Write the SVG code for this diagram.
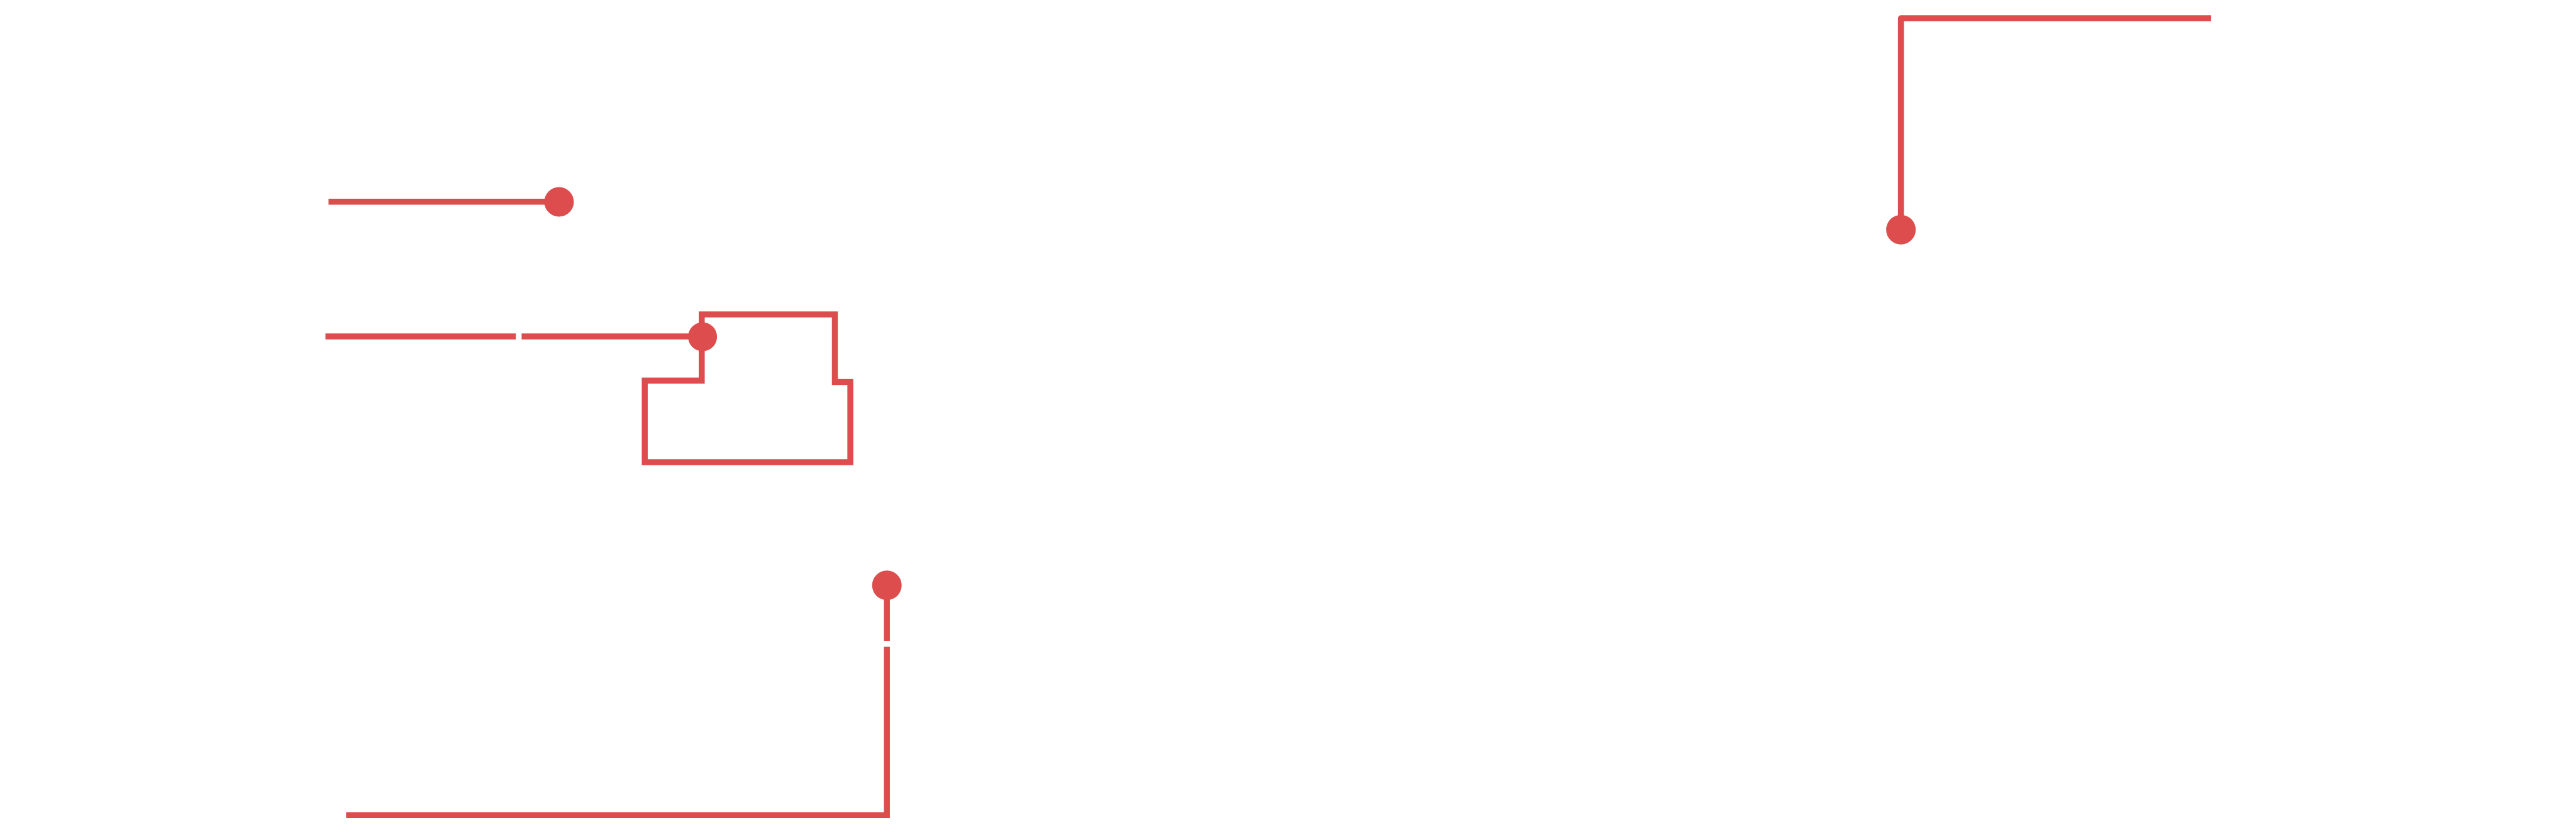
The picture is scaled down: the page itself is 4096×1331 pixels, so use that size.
<svg xmlns="http://www.w3.org/2000/svg" width="4096" height="1331" viewBox="0 0 4096 1331">
  <style>
    .edge { fill: none; stroke: #DD4D4D; stroke-width: 9.5; stroke-linecap: butt; stroke-linejoin: miter; }
    .edge.round { stroke-linejoin: round; }
    .dot { fill: #DD4D4D; stroke: none; }
  </style>
  <rect x="0" y="0" width="4096" height="1331" fill="#FFFFFF"/>
  <g id="connectors">
    <path class="edge" d="M522.4,320.7 H888.9"/>
    <path class="edge" d="M517.5,535.1 H820.2"/>
    <path class="edge" d="M829.4,535.1 H1117.1"/>
    <path class="edge" d="M1115.8,535.6 V500.0 H1327.5 V607.5 H1352.1 V735.1 H1025.2 V605.2 H1115.8 V535.6"/>
    <path class="edge" d="M1410.2,930.8 V1019.1"/>
    <path class="edge" d="M1410.2,1028.6 V1296.2 H550.3"/>
    <path class="edge round" d="M3022.6,365.2 V29.0 H3515.9"/>
  </g>
  <g id="node-1"><circle class="dot" cx="888.9" cy="321.0" r="23.5"/></g>
  <g id="node-2"><circle class="dot" cx="1117.1" cy="535.6" r="23.0"/></g>
  <g id="node-3"><circle class="dot" cx="1410.2" cy="930.8" r="23.5"/></g>
  <g id="node-4"><circle class="dot" cx="3022.6" cy="365.2" r="23.5"/></g>
</svg>
